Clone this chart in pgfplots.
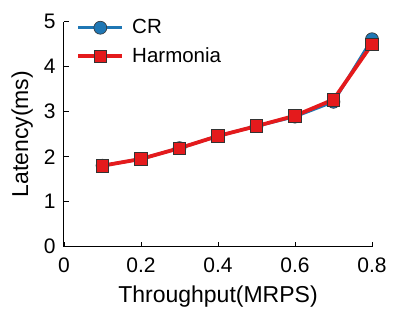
\documentclass[border=0pt]{standalone}
\usepackage{pgfplots}
\pgfplotsset{compat=1.18}
\usepackage{fontspec}
\setmainfont{Liberation Sans}
\definecolor{crblue}{HTML}{1F77B4}
\definecolor{hred}{HTML}{E41A1C}
\begin{document}
\fontsize{19}{23}\selectfont
\begin{tikzpicture}
\begin{axis}[
  name=ax,
  scale only axis,
  width=308pt, height=225pt,
  xmin=0, xmax=0.8, ymin=0, ymax=5,
  axis x line*=bottom, axis y line*=left,
  axis line style={line width=1pt, -},
  xtick={0,0.2,0.4,0.6,0.8},
  ytick={0,1,2,3,4,5},
  xticklabels={0,0.2,0.4,0.6,0.8},
  tick align=inside,
  major tick length=5pt,
  tick style={line width=0.8pt, black},
  tick label style={font=\fontsize{21}{25}\selectfont},
  xticklabel style={yshift=-5pt},
  yticklabel style={xshift=-2pt},
  label style={font=\fontsize{23}{27}\selectfont},
  /pgf/number format/assume math mode=true,
  xlabel={Throughput(MRPS)},
  ylabel={Latency(ms)},
  xlabel style={yshift=0pt},
  ylabel style={yshift=-2pt},
  legend style={draw=none, fill=none, at={(0.03,1.03)}, anchor=north west,
    font=\fontsize{20.5}{24}\selectfont, row sep=7pt},
  legend cell align=left,
  legend image code/.code={
    \draw[mark repeat=2,mark phase=2,#1] plot coordinates {(0pt,0pt) (22pt,0pt) (44pt,0pt)};
    \path (50pt,0pt);
  },
]
\addplot[crblue, line width=3pt, mark=*, mark size=6.5pt,
  mark options={fill=crblue, draw=black!80, line width=0.6pt}]
  coordinates {(0.1,1.80) (0.2,1.95) (0.3,2.19) (0.4,2.46) (0.5,2.68) (0.6,2.89) (0.7,3.22) (0.8,4.61)};
\addlegendentry{CR}
\addplot[hred, line width=3.8pt, mark=square*, mark size=6.3pt,
  mark options={fill=hred, draw=black!80, line width=0.6pt}]
  coordinates {(0.1,1.80) (0.2,1.95) (0.3,2.19) (0.4,2.46) (0.5,2.68) (0.6,2.91) (0.7,3.27) (0.8,4.50)};
\addlegendentry{Harmonia}
\end{axis}
\pgfresetboundingbox
\path (ax.south west) ++(-64pt,-73.3pt) rectangle ++(399pt,320pt);
\end{tikzpicture}
\end{document}
